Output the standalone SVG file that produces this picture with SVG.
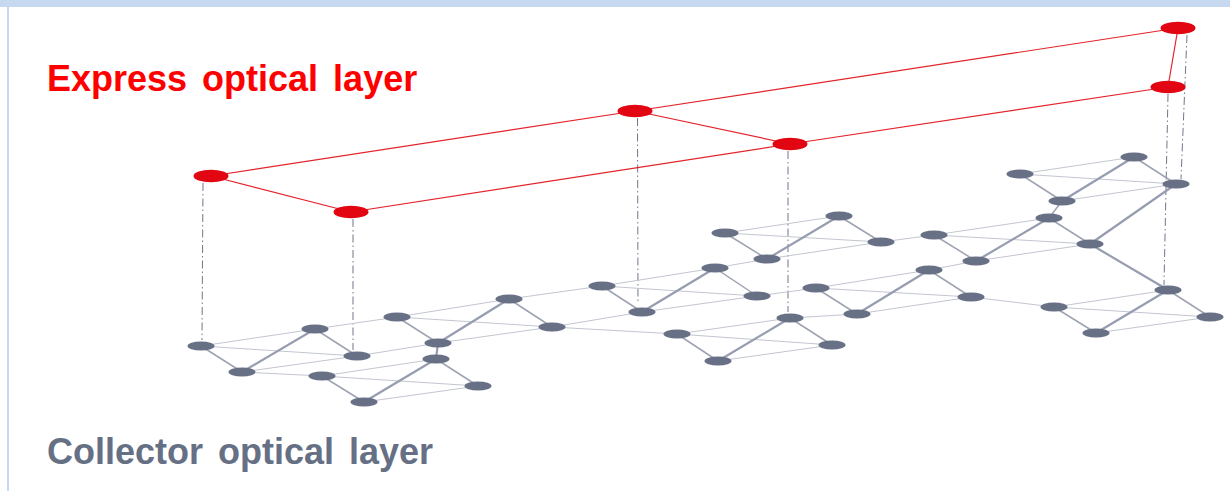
<svg xmlns="http://www.w3.org/2000/svg" width="1230" height="491" viewBox="0 0 1230 491">
<style>
.e{stroke:#c2c6d0;stroke-width:1;fill:none}
.m{stroke:#9ea3b2;stroke-width:1.5;fill:none}
.k{stroke:#979db0;stroke-width:2.2;fill:none}
.d{stroke:#707789;stroke-width:1;stroke-dasharray:8 3 1.5 3;fill:none}
.r{stroke:#e3242b;stroke-width:1.2;fill:none}
.g{fill:#687086}
.rn{fill:#e20613}
.lbl{font-family:"Liberation Sans",Arial,sans-serif;font-weight:bold;font-size:36px;word-spacing:5px}
</style>
<rect x="0" y="0" width="1230" height="491" fill="#ffffff"/>
<rect x="0" y="0" width="1230" height="7" fill="#c6d9f0"/>
<rect x="7" y="7" width="2" height="484" fill="#c6d9f0"/>
<g id="connectors">
<!-- dashed verticals -->
<line class="d" x1="203" y1="183" x2="202" y2="340"/>
<line class="d" x1="353" y1="219" x2="353" y2="350"/>
<line class="d" x1="637.5" y1="118" x2="638" y2="303"/>
<line class="d" x1="788" y1="151" x2="788" y2="312"/>
<line class="d" x1="1187" y1="35" x2="1181" y2="179"/>
<line class="d" x1="1168" y1="94" x2="1164" y2="285"/>
<!-- express layer -->
<polyline class="r" points="211,176 635,111 1178,28"/>
<polyline class="r" points="351,212 790,144 1168,87"/>
<line class="r" x1="211" y1="176" x2="351" y2="212"/>
<line class="r" x1="635" y1="111" x2="790" y2="144"/>
<line class="r" x1="1178" y1="28" x2="1168" y2="87"/>
<!-- Q1 -->
<line class="e" x1="201" y1="346" x2="315" y2="329"/><line class="e" x1="201" y1="346" x2="357" y2="356"/><line class="e" x1="242" y1="372" x2="357" y2="356"/>
<line class="m" x1="201" y1="346" x2="242" y2="372"/><line class="m" x1="315" y1="329" x2="357" y2="356"/><line class="k" x1="242" y1="372" x2="315" y2="329"/>
<!-- Q2 -->
<line class="e" x1="322" y1="376" x2="436" y2="359"/><line class="e" x1="322" y1="376" x2="478" y2="386"/><line class="e" x1="364" y1="402" x2="478" y2="386"/>
<line class="m" x1="322" y1="376" x2="364" y2="402"/><line class="m" x1="436" y1="359" x2="478" y2="386"/><line class="k" x1="364" y1="402" x2="436" y2="359"/>
<!-- Q3 -->
<line class="e" x1="397" y1="317" x2="509" y2="299"/><line class="e" x1="397" y1="317" x2="552" y2="327"/><line class="e" x1="438" y1="343" x2="552" y2="327"/>
<line class="m" x1="397" y1="317" x2="438" y2="343"/><line class="m" x1="509" y1="299" x2="552" y2="327"/><line class="k" x1="438" y1="343" x2="509" y2="299"/>
<!-- Q4 -->
<line class="e" x1="602" y1="286" x2="715" y2="268"/><line class="e" x1="602" y1="286" x2="757" y2="296"/><line class="e" x1="642" y1="312" x2="757" y2="296"/>
<line class="m" x1="602" y1="286" x2="642" y2="312"/><line class="m" x1="715" y1="268" x2="757" y2="296"/><line class="k" x1="642" y1="312" x2="715" y2="268"/>
<!-- Q5 -->
<line class="e" x1="677" y1="334" x2="790" y2="318"/><line class="e" x1="677" y1="334" x2="832" y2="345"/><line class="e" x1="718" y1="361" x2="832" y2="345"/>
<line class="m" x1="677" y1="334" x2="718" y2="361"/><line class="m" x1="790" y1="318" x2="832" y2="345"/><line class="k" x1="718" y1="361" x2="790" y2="318"/>
<!-- Q6 -->
<line class="e" x1="725" y1="233" x2="839" y2="216"/><line class="e" x1="725" y1="233" x2="881" y2="242"/><line class="e" x1="767" y1="259" x2="881" y2="242"/>
<line class="m" x1="725" y1="233" x2="767" y2="259"/><line class="m" x1="839" y1="216" x2="881" y2="242"/><line class="k" x1="767" y1="259" x2="839" y2="216"/>
<!-- Q7 -->
<line class="e" x1="816" y1="288" x2="929" y2="270"/><line class="e" x1="816" y1="288" x2="971" y2="297"/><line class="e" x1="857" y1="314" x2="971" y2="297"/>
<line class="m" x1="816" y1="288" x2="857" y2="314"/><line class="m" x1="929" y1="270" x2="971" y2="297"/><line class="k" x1="857" y1="314" x2="929" y2="270"/>
<!-- Q8 -->
<line class="e" x1="934" y1="235" x2="1049" y2="218"/><line class="e" x1="934" y1="235" x2="1090" y2="244"/><line class="e" x1="976" y1="261" x2="1090" y2="244"/>
<line class="m" x1="934" y1="235" x2="976" y2="261"/><line class="m" x1="1049" y1="218" x2="1090" y2="244"/><line class="k" x1="976" y1="261" x2="1049" y2="218"/>
<!-- Q9 -->
<line class="e" x1="1020" y1="174" x2="1134" y2="157"/><line class="e" x1="1020" y1="174" x2="1176" y2="184"/><line class="e" x1="1062" y1="201" x2="1176" y2="184"/>
<line class="m" x1="1020" y1="174" x2="1062" y2="201"/><line class="m" x1="1134" y1="157" x2="1176" y2="184"/><line class="k" x1="1062" y1="201" x2="1134" y2="157"/>
<!-- Q10 -->
<line class="e" x1="1054" y1="307" x2="1168" y2="290"/><line class="e" x1="1054" y1="307" x2="1210" y2="317"/><line class="e" x1="1096" y1="333" x2="1210" y2="317"/>
<line class="m" x1="1054" y1="307" x2="1096" y2="333"/><line class="m" x1="1168" y1="290" x2="1210" y2="317"/><line class="k" x1="1096" y1="333" x2="1168" y2="290"/>
<!-- inter-cluster links -->
<line class="e" x1="315" y1="329" x2="397" y2="317"/>
<line class="e" x1="357" y1="356" x2="438" y2="343"/>
<line class="e" x1="242" y1="372" x2="322" y2="376"/>
<line class="k" x1="436" y1="359" x2="438" y2="343"/>
<line class="e" x1="509" y1="299" x2="602" y2="286"/>
<line class="e" x1="552" y1="327" x2="642" y2="312"/>
<line class="e" x1="552" y1="327" x2="677" y2="334"/>
<line class="e" x1="715" y1="268" x2="767" y2="259"/>
<line class="e" x1="757" y1="296" x2="816" y2="288"/>
<line class="e" x1="790" y1="318" x2="857" y2="314"/>
<line class="e" x1="881" y1="242" x2="934" y2="235"/>
<line class="e" x1="929" y1="270" x2="976" y2="261"/>
<line class="e" x1="971" y1="297" x2="1054" y2="307"/>
<line class="m" x1="1049" y1="218" x2="1062" y2="201"/>
<line class="k" x1="1176" y1="184" x2="1090" y2="244"/>
<line class="k" x1="1090" y1="244" x2="1168" y2="290"/>
</g>
<g id="express-nodes">
<g id="x1"><ellipse class="rn" cx="211" cy="176" rx="17.5" ry="6.2"/></g>
<g id="x2"><ellipse class="rn" cx="351" cy="212" rx="17.5" ry="6.2"/></g>
<g id="x3"><ellipse class="rn" cx="635" cy="111" rx="17.5" ry="6.2"/></g>
<g id="x4"><ellipse class="rn" cx="790" cy="144" rx="17.5" ry="6.2"/></g>
<g id="x5"><ellipse class="rn" cx="1178" cy="28" rx="17.5" ry="6.2"/></g>
<g id="x6"><ellipse class="rn" cx="1168" cy="87" rx="17.5" ry="6.2"/></g>
</g>
<g id="collector-nodes">
<g id="q1l"><ellipse class="g" cx="201" cy="346" rx="13.5" ry="4.5"/></g>
<g id="q1t"><ellipse class="g" cx="315" cy="329" rx="13.5" ry="4.5"/></g>
<g id="q1r"><ellipse class="g" cx="357" cy="356" rx="13.5" ry="4.5"/></g>
<g id="q1b"><ellipse class="g" cx="242" cy="372" rx="13.5" ry="4.5"/></g>
<g id="q2l"><ellipse class="g" cx="322" cy="376" rx="13.5" ry="4.5"/></g>
<g id="q2t"><ellipse class="g" cx="436" cy="359" rx="13.5" ry="4.5"/></g>
<g id="q2r"><ellipse class="g" cx="478" cy="386" rx="13.5" ry="4.5"/></g>
<g id="q2b"><ellipse class="g" cx="364" cy="402" rx="13.5" ry="4.5"/></g>
<g id="q3l"><ellipse class="g" cx="397" cy="317" rx="13.5" ry="4.5"/></g>
<g id="q3t"><ellipse class="g" cx="509" cy="299" rx="13.5" ry="4.5"/></g>
<g id="q3r"><ellipse class="g" cx="552" cy="327" rx="13.5" ry="4.5"/></g>
<g id="q3b"><ellipse class="g" cx="438" cy="343" rx="13.5" ry="4.5"/></g>
<g id="q4l"><ellipse class="g" cx="602" cy="286" rx="13.5" ry="4.5"/></g>
<g id="q4t"><ellipse class="g" cx="715" cy="268" rx="13.5" ry="4.5"/></g>
<g id="q4r"><ellipse class="g" cx="757" cy="296" rx="13.5" ry="4.5"/></g>
<g id="q4b"><ellipse class="g" cx="642" cy="312" rx="13.5" ry="4.5"/></g>
<g id="q5l"><ellipse class="g" cx="677" cy="334" rx="13.5" ry="4.5"/></g>
<g id="q5t"><ellipse class="g" cx="790" cy="318" rx="13.5" ry="4.5"/></g>
<g id="q5r"><ellipse class="g" cx="832" cy="345" rx="13.5" ry="4.5"/></g>
<g id="q5b"><ellipse class="g" cx="718" cy="361" rx="13.5" ry="4.5"/></g>
<g id="q6l"><ellipse class="g" cx="725" cy="233" rx="13.5" ry="4.5"/></g>
<g id="q6t"><ellipse class="g" cx="839" cy="216" rx="13.5" ry="4.5"/></g>
<g id="q6r"><ellipse class="g" cx="881" cy="242" rx="13.5" ry="4.5"/></g>
<g id="q6b"><ellipse class="g" cx="767" cy="259" rx="13.5" ry="4.5"/></g>
<g id="q7l"><ellipse class="g" cx="816" cy="288" rx="13.5" ry="4.5"/></g>
<g id="q7t"><ellipse class="g" cx="929" cy="270" rx="13.5" ry="4.5"/></g>
<g id="q7r"><ellipse class="g" cx="971" cy="297" rx="13.5" ry="4.5"/></g>
<g id="q7b"><ellipse class="g" cx="857" cy="314" rx="13.5" ry="4.5"/></g>
<g id="q8l"><ellipse class="g" cx="934" cy="235" rx="13.5" ry="4.5"/></g>
<g id="q8t"><ellipse class="g" cx="1049" cy="218" rx="13.5" ry="4.5"/></g>
<g id="q8r"><ellipse class="g" cx="1090" cy="244" rx="13.5" ry="4.5"/></g>
<g id="q8b"><ellipse class="g" cx="976" cy="261" rx="13.5" ry="4.5"/></g>
<g id="q9l"><ellipse class="g" cx="1020" cy="174" rx="13.5" ry="4.5"/></g>
<g id="q9t"><ellipse class="g" cx="1134" cy="157" rx="13.5" ry="4.5"/></g>
<g id="q9r"><ellipse class="g" cx="1176" cy="184" rx="13.5" ry="4.5"/></g>
<g id="q9b"><ellipse class="g" cx="1062" cy="201" rx="13.5" ry="4.5"/></g>
<g id="q10l"><ellipse class="g" cx="1054" cy="307" rx="13.5" ry="4.5"/></g>
<g id="q10t"><ellipse class="g" cx="1168" cy="290" rx="13.5" ry="4.5"/></g>
<g id="q10r"><ellipse class="g" cx="1210" cy="317" rx="13.5" ry="4.5"/></g>
<g id="q10b"><ellipse class="g" cx="1096" cy="333" rx="13.5" ry="4.5"/></g>
</g>
<g id="labels">
<text class="lbl" x="47" y="90.5" fill="#ff0000">Express optical layer</text>
<text class="lbl" x="47" y="464" fill="#667085">Collector optical layer</text>
</g>
</svg>
